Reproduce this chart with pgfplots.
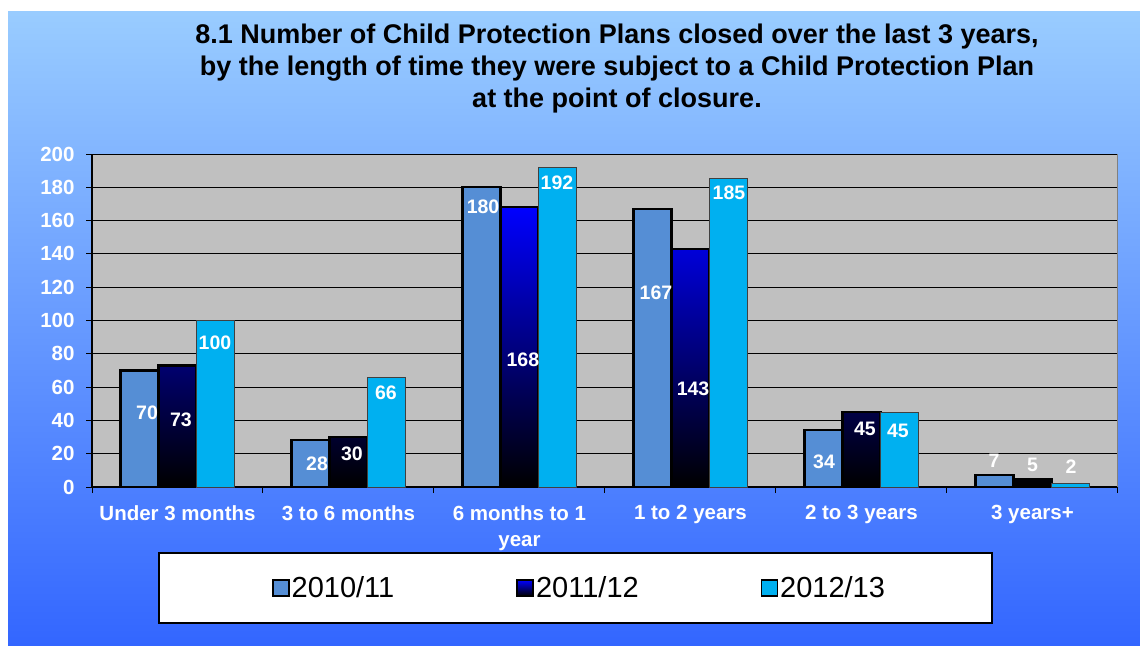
\documentclass[border=0pt]{standalone}
\usepackage{pgfplots}
\usepackage{pgfplotstable}
\pgfplotsset{compat=1.18}
\usepackage{fontspec}
\setmainfont{Liberation Sans}
\definecolor{bgtop}{RGB}{153,204,255}
\definecolor{bgbot}{RGB}{51,102,255}
\definecolor{plotbg}{RGB}{192,192,192}
\definecolor{serA}{RGB}{85,142,213}
\definecolor{serC}{RGB}{0,176,240}
\newcommand\titlefont{\fontsize{27bp}{32bp}\selectfont\bfseries}
\newcommand\tickfont{\fontsize{20.5bp}{26bp}\selectfont\bfseries}
\newcommand\labfont{\fontsize{19.5bp}{22bp}\selectfont\bfseries}
\newcommand\legfont{\fontsize{29bp}{34bp}\selectfont}

\pgfplotstableread{
x y
0 70
1 28
2 180
3 167
4 34
5 7
}\serA
\pgfplotstableread{
x y
0 73
1 30
2 168
3 143
4 45
5 5
}\serB
\pgfplotstableread{
x y
0 100
1 66
2 192
3 185
4 45
5 2
}\serC
% label positions (x, y of label centre, text)
\pgfplotstableread{
x y lab
-0.178 44.4 70
0.816 13.8 28
1.787 168 180
2.798 116.5 167
3.781 15 34
4.775 15.6 7
}\labA
\pgfplotstableread{
x y lab
0.020 40.2 73
1.020 19.8 30
2.020 76.3 168
3.015 58.9 143
4.020 34.8 45
5.000 13.2 5
}\labB
\pgfplotstableread{
x y lab
0.219 86.5 100
1.219 56.5 66
2.219 182.6 192
3.225 176.6 185
4.213 33.6 45
5.225 12 2
}\labC

\begin{document}
\begin{tikzpicture}[x=1bp,y=-1bp]
\path[use as bounding box] (0,0) rectangle (1140,646);
\fill[white] (0,0) rectangle (1140,646);
\shade[top color=bgtop, bottom color=bgbot] (8,12) rectangle (1140,646);
\node[anchor=north, align=center, font=\titlefont, inner sep=0pt] at (617,23.5)
  {8.1 Number of Child Protection Plans closed over the last 3 years,\\
   by the length of time they were subject to a Child Protection Plan\\
   at the point of closure.};
\draw[black, line width=1.2bp, fill=white] (159,553) rectangle (992,623);
\begin{axis}[
  at={(92bp,-487bp)}, anchor=south west,
  scale only axis, width=1026bp, height=333bp,
  xmin=-0.5, xmax=5.5, ymin=0, ymax=200,
  clip=false,
  axis background/.style={fill=plotbg},
  axis x line*=bottom, axis y line*=left,
  axis line style={black, line width=1.3bp},
  ytick={0,20,...,200},
  ymajorgrids, major grid style={black, line width=1bp},
  xtick={0,...,5},
  xticklabels={Under 3 months, 3 to 6 months, {6 months to 1\\year}, 1 to 2 years, 2 to 3 years, 3 years+},
  minor xtick={-0.5,0.5,...,5.5},
  tick align=outside,
  major tick length=6bp, minor tick length=6bp,
  major x tick style={draw=none},
  minor x tick style={black, line width=1bp},
  y tick style={black, line width=1bp},
  /pgf/number format/assume math mode=true,
  tick label style={font=\tickfont, text=white},
  xticklabel style={align=center, yshift=-9bp},
  yticklabel style={xshift=-8bp},
  legend columns=3,
  legend style={at={(axis description cs:0.4751,-0.3033)}, anchor=center,
    draw=none, fill=none, font=\legfont,
    /tikz/every even column/.append style={column sep=120bp}},
]
\addplot[ybar, bar width=38bp, bar shift=-38bp, fill=serA, draw=black, line width=2.2bp,
  legend image code/.code={\draw[fill=serA, draw=black, line width=1.8bp] (0bp,-8bp) rectangle (16bp,8bp);}]
  table[x=x,y=y]{\serA};
\addlegendentry{2010/11}
\addplot[ybar, bar width=38bp, bar shift=0bp, top color=blue, bottom color=black, draw=black, line width=2.2bp,
  legend image code/.code={\draw[top color=blue, bottom color=black, draw=black, line width=1.8bp] (0bp,-8bp) rectangle (16bp,8bp);}]
  table[x=x,y=y]{\serB};
\addlegendentry{2011/12}
\addplot[ybar, bar width=38bp, bar shift=38bp, fill=serC, draw=black!75, line width=1bp,
  legend image code/.code={\draw[fill=serC, draw=black, line width=1.4bp] (0bp,-8bp) rectangle (16bp,8bp);}]
  table[x=x,y=y]{\serC};
\addlegendentry{2012/13}
\pgfplotsset{labstyle/.style={forget plot, draw=none, mark=none, nodes near coords,
  point meta=explicit symbolic, nodes near coords align={center},
  every node near coord/.append style={anchor=center, text=white, font=\labfont, inner sep=0pt}}}
\addplot[labstyle] table[x=x,y=y,meta=lab]{\labA};
\addplot[labstyle] table[x=x,y=y,meta=lab]{\labB};
\addplot[labstyle] table[x=x,y=y,meta=lab]{\labC};
\draw[black!50, line width=1bp] (rel axis cs:1,0) -- (rel axis cs:1,1);
\end{axis}
\end{tikzpicture}
\end{document}
